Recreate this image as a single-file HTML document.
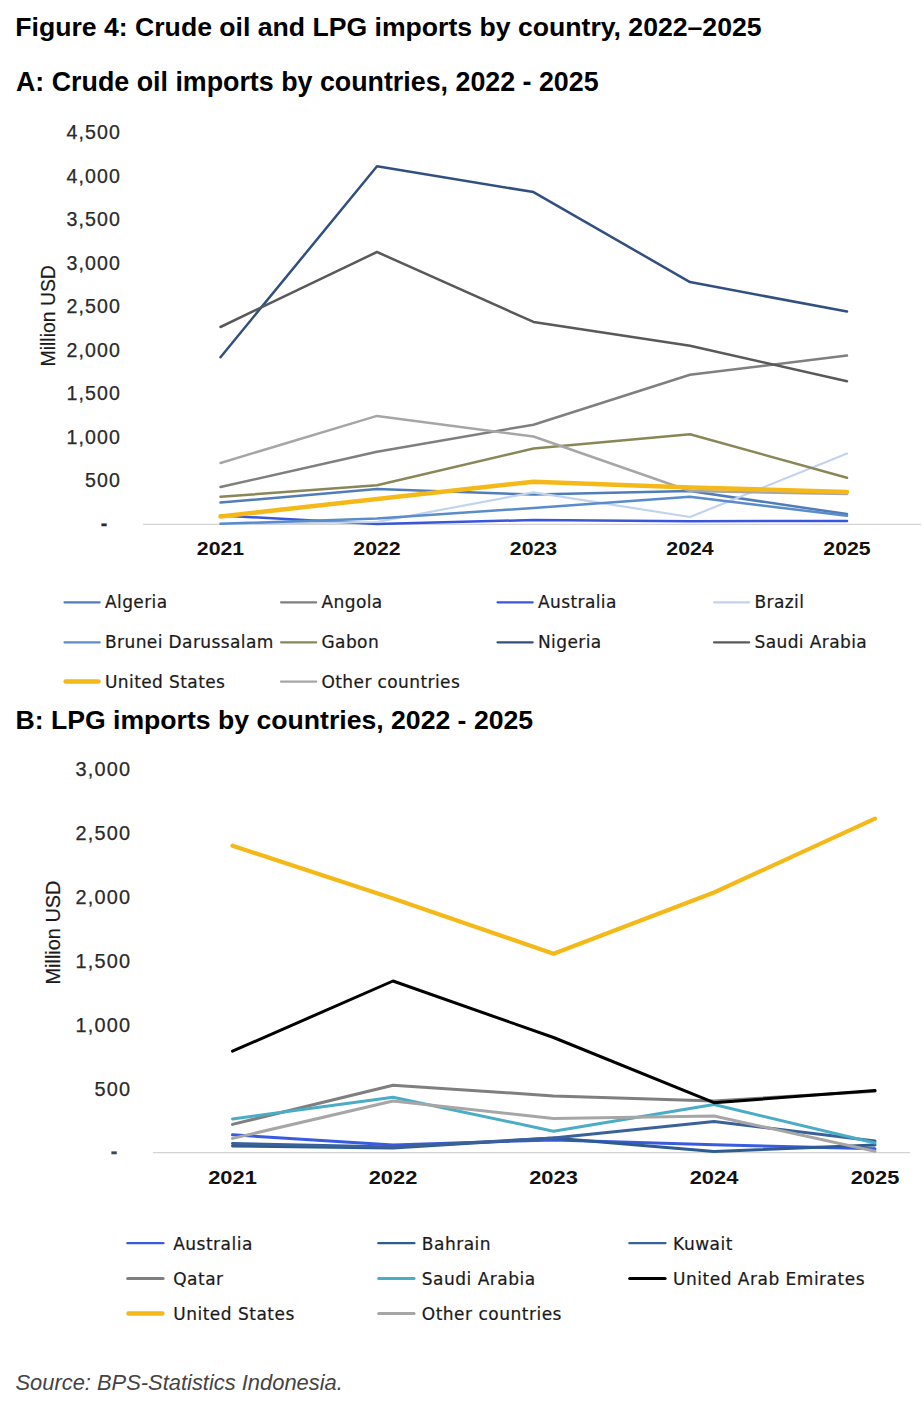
<!DOCTYPE html><html><head><meta charset="utf-8"><title>Figure 4: Crude oil and LPG imports by country</title>
<style>html,body{margin:0;padding:0;background:#fff;}svg{display:block;}.h{font-family:"Liberation Sans",Arial,sans-serif;font-weight:bold;font-size:26.62px;fill:#000;}.tk{font-family:"Liberation Sans",Arial,sans-serif;font-size:19.6px;letter-spacing:1.1px;fill:#2a2a2a;stroke:#2a2a2a;stroke-width:0.25px;}.tkb{font-size:19.9px;letter-spacing:1.2px;}.yr{font-family:"Liberation Sans",Arial,sans-serif;font-weight:bold;font-size:19px;fill:#111;}.lg{font-family:"DejaVu Sans","Liberation Sans",sans-serif;font-size:17px;letter-spacing:0.4px;fill:#1a1a1a;stroke:#1a1a1a;stroke-width:0.2px;}.lgb{letter-spacing:0.5px;}.yt{font-family:"Liberation Sans",Arial,sans-serif;font-size:19px;fill:#1a1a1a;stroke:#1a1a1a;stroke-width:0.2px;}.src{font-family:"Liberation Sans",Arial,sans-serif;font-style:italic;font-size:21.9px;fill:#444;}</style></head><body>
<svg width="924" height="1408" viewBox="0 0 924 1408">
<rect width="924" height="1408" fill="#fff"/>
<text class="h" x="15.3" y="35.7">Figure 4: Crude oil and LPG imports by country, 2022–2025</text>
<text class="h" x="16" y="90.8" style="font-size:26.82px">A: Crude oil imports by countries, 2022 - 2025</text>
<text class="h" x="15.5" y="729.2">B: LPG imports by countries, 2022 - 2025</text>
<text class="tk" x="108.4" y="529.5" text-anchor="end" style="font-weight:bold">-</text>
<text class="tk" x="121" y="487.3" text-anchor="end">500</text>
<text class="tk" x="121" y="443.7" text-anchor="end">1,000</text>
<text class="tk" x="121" y="400.2" text-anchor="end">1,500</text>
<text class="tk" x="121" y="356.7" text-anchor="end">2,000</text>
<text class="tk" x="121" y="313.1" text-anchor="end">2,500</text>
<text class="tk" x="121" y="269.6" text-anchor="end">3,000</text>
<text class="tk" x="121" y="226.1" text-anchor="end">3,500</text>
<text class="tk" x="121" y="182.5" text-anchor="end">4,000</text>
<text class="tk" x="121" y="139.0" text-anchor="end">4,500</text>
<line x1="143" y1="524.4" x2="921" y2="524.4" stroke="#D4D4D4" stroke-width="1.2"/>
<text class="yt" transform="translate(54.6,315.8) rotate(-90)" text-anchor="middle" style="font-size:19.4px">Million USD</text>
<text class="yr" transform="translate(220.5,555) scale(1.12,1)" text-anchor="middle">2021</text>
<text class="yr" transform="translate(377,555) scale(1.12,1)" text-anchor="middle">2022</text>
<text class="yr" transform="translate(533.5,555) scale(1.12,1)" text-anchor="middle">2023</text>
<text class="yr" transform="translate(690,555) scale(1.12,1)" text-anchor="middle">2024</text>
<text class="yr" transform="translate(847,555) scale(1.12,1)" text-anchor="middle">2025</text>
<polyline points="220.5,502.6 377,488.9 533.5,494.6 690,491 847,514.1" fill="none" stroke="#4F7DB8" stroke-width="2.5" stroke-linejoin="round" stroke-linecap="round"/>
<polyline points="220.5,487 377,451.7 533.5,424.7 690,374.7 847,355.6" fill="none" stroke="#7F7F7F" stroke-width="2.5" stroke-linejoin="round" stroke-linecap="round"/>
<polyline points="220.5,515.5 377,524 533.5,520 690,521.2 847,521" fill="none" stroke="#3A56DC" stroke-width="2.5" stroke-linejoin="round" stroke-linecap="round"/>
<polyline points="220.5,524 377,522 533.5,492.3 690,517 847,453.6" fill="none" stroke="#C2D3EE" stroke-width="2.2" stroke-linejoin="round" stroke-linecap="round"/>
<polyline points="220.5,523.8 377,518.4 533.5,508 690,496.8 847,515.8" fill="none" stroke="#5A8BCB" stroke-width="2.5" stroke-linejoin="round" stroke-linecap="round"/>
<polyline points="220.5,496.8 377,485.2 533.5,448.5 690,434.3 847,477.8" fill="none" stroke="#8A8658" stroke-width="2.5" stroke-linejoin="round" stroke-linecap="round"/>
<polyline points="220.5,357.2 377,166.2 533.5,192.1 690,282.1 847,311.6" fill="none" stroke="#31507F" stroke-width="2.5" stroke-linejoin="round" stroke-linecap="round"/>
<polyline points="220.5,327 377,252 533.5,321.9 690,345.7 847,381.2" fill="none" stroke="#595959" stroke-width="2.5" stroke-linejoin="round" stroke-linecap="round"/>
<polyline points="220.5,463 377,415.9 533.5,436.5 690,491 847,494" fill="none" stroke="#A6A6A6" stroke-width="2.5" stroke-linejoin="round" stroke-linecap="round"/>
<polyline points="220.5,516.4 377,499 533.5,481.7 690,487.4 847,492" fill="none" stroke="#F4B919" stroke-width="4.5" stroke-linejoin="round" stroke-linecap="round"/>
<line x1="64.50" y1="602.3" x2="99.70" y2="602.3" stroke="#4F7DB8" stroke-width="2.2" stroke-linecap="round"/>
<text class="lg" x="105" y="608.3">Algeria</text>
<line x1="281.00" y1="602.3" x2="316.20" y2="602.3" stroke="#7F7F7F" stroke-width="2.2" stroke-linecap="round"/>
<text class="lg" x="321.5" y="608.3">Angola</text>
<line x1="497.50" y1="602.3" x2="532.70" y2="602.3" stroke="#3A56DC" stroke-width="2.2" stroke-linecap="round"/>
<text class="lg" x="538" y="608.3">Australia</text>
<line x1="714.00" y1="602.3" x2="749.20" y2="602.3" stroke="#C2D3EE" stroke-width="2.2" stroke-linecap="round"/>
<text class="lg" x="754.5" y="608.3">Brazil</text>
<line x1="64.50" y1="642.3" x2="99.70" y2="642.3" stroke="#5A8BCB" stroke-width="2.2" stroke-linecap="round"/>
<text class="lg" x="105" y="648.3">Brunei Darussalam</text>
<line x1="281.00" y1="642.3" x2="316.20" y2="642.3" stroke="#8A8658" stroke-width="2.2" stroke-linecap="round"/>
<text class="lg" x="321.5" y="648.3">Gabon</text>
<line x1="497.50" y1="642.3" x2="532.70" y2="642.3" stroke="#31507F" stroke-width="2.2" stroke-linecap="round"/>
<text class="lg" x="538" y="648.3">Nigeria</text>
<line x1="714.00" y1="642.3" x2="749.20" y2="642.3" stroke="#595959" stroke-width="2.2" stroke-linecap="round"/>
<text class="lg" x="754.5" y="648.3">Saudi Arabia</text>
<line x1="65.65" y1="681.6" x2="98.55" y2="681.6" stroke="#F4B919" stroke-width="4.5" stroke-linecap="round"/>
<text class="lg" x="105" y="687.6">United States</text>
<line x1="281.00" y1="681.6" x2="316.20" y2="681.6" stroke="#A6A6A6" stroke-width="2.2" stroke-linecap="round"/>
<text class="lg" x="321.5" y="687.6">Other countries</text>
<text class="tk tkb" x="118.5" y="1157.5" text-anchor="end" style="font-weight:bold;fill:#444">-</text>
<text class="tk tkb" x="131.2" y="1095.5" text-anchor="end">500</text>
<text class="tk tkb" x="131.2" y="1031.6" text-anchor="end">1,000</text>
<text class="tk tkb" x="131.2" y="967.6" text-anchor="end">1,500</text>
<text class="tk tkb" x="131.2" y="903.7" text-anchor="end">2,000</text>
<text class="tk tkb" x="131.2" y="839.8" text-anchor="end">2,500</text>
<text class="tk tkb" x="131.2" y="775.9" text-anchor="end">3,000</text>
<line x1="153" y1="1152.6" x2="910" y2="1152.6" stroke="#D4D4D4" stroke-width="1.2"/>
<text class="yt" transform="translate(60.4,932.5) rotate(-90)" text-anchor="middle" style="font-size:19.9px">Million USD</text>
<text class="yr" transform="translate(232.5,1183.8) scale(1.15,1)" text-anchor="middle">2021</text>
<text class="yr" transform="translate(393,1183.8) scale(1.15,1)" text-anchor="middle">2022</text>
<text class="yr" transform="translate(553.5,1183.8) scale(1.15,1)" text-anchor="middle">2023</text>
<text class="yr" transform="translate(714,1183.8) scale(1.15,1)" text-anchor="middle">2024</text>
<text class="yr" transform="translate(875,1183.8) scale(1.15,1)" text-anchor="middle">2025</text>
<polyline points="232.5,1134.8 393,1145 553.5,1139.9 714,1144.7 875,1148.8" fill="none" stroke="#3A5BE0" stroke-width="3" stroke-linejoin="round" stroke-linecap="round"/>
<polyline points="232.5,1146 393,1148 553.5,1138 714,1151.4 875,1145" fill="none" stroke="#2F5C90" stroke-width="3" stroke-linejoin="round" stroke-linecap="round"/>
<polyline points="232.5,1143.5 393,1147 553.5,1138 714,1121.4 875,1141" fill="none" stroke="#3A6299" stroke-width="3" stroke-linejoin="round" stroke-linecap="round"/>
<polyline points="232.5,1124.4 393,1085.2 553.5,1095.9 714,1101 875,1091.2" fill="none" stroke="#7F7F7F" stroke-width="3" stroke-linejoin="round" stroke-linecap="round"/>
<polyline points="232.5,1118.9 393,1097.3 553.5,1131.2 714,1104.5 875,1143" fill="none" stroke="#4BACC6" stroke-width="3" stroke-linejoin="round" stroke-linecap="round"/>
<polyline points="232.5,1051.2 393,981 553.5,1037.5 714,1102.7 875,1090.6" fill="none" stroke="#000000" stroke-width="3" stroke-linejoin="round" stroke-linecap="round"/>
<polyline points="232.5,845.7 393,898.5 553.5,953.7 714,892.5 875,818.6" fill="none" stroke="#F4B919" stroke-width="4.2" stroke-linejoin="round" stroke-linecap="round"/>
<polyline points="232.5,1138.4 393,1101 553.5,1118.6 714,1116 875,1151.2" fill="none" stroke="#A6A6A6" stroke-width="3" stroke-linejoin="round" stroke-linecap="round"/>
<line x1="127.30" y1="1243.2" x2="163.50" y2="1243.2" stroke="#3A5BE0" stroke-width="2.2" stroke-linecap="round"/>
<text class="lg lgb" x="173.2" y="1249.6000000000001">Australia</text>
<line x1="378.30" y1="1243.2" x2="414.50" y2="1243.2" stroke="#2F5C90" stroke-width="2.2" stroke-linecap="round"/>
<text class="lg lgb" x="421.8" y="1249.6000000000001">Bahrain</text>
<line x1="629.30" y1="1243.2" x2="665.50" y2="1243.2" stroke="#3A6299" stroke-width="2.2" stroke-linecap="round"/>
<text class="lg lgb" x="673.1" y="1249.6000000000001">Kuwait</text>
<line x1="127.70" y1="1278.6" x2="163.10" y2="1278.6" stroke="#7F7F7F" stroke-width="3" stroke-linecap="round"/>
<text class="lg lgb" x="173.2" y="1285.0">Qatar</text>
<line x1="378.70" y1="1278.6" x2="414.10" y2="1278.6" stroke="#4BACC6" stroke-width="3" stroke-linecap="round"/>
<text class="lg lgb" x="421.8" y="1285.0">Saudi Arabia</text>
<line x1="629.70" y1="1278.6" x2="665.10" y2="1278.6" stroke="#000000" stroke-width="3" stroke-linecap="round"/>
<text class="lg lgb" x="673.1" y="1285.0">United Arab Emirates</text>
<line x1="128.45" y1="1313.4" x2="162.35" y2="1313.4" stroke="#F4B919" stroke-width="4.5" stroke-linecap="round"/>
<text class="lg lgb" x="173.2" y="1319.8000000000002">United States</text>
<line x1="378.70" y1="1313.4" x2="414.10" y2="1313.4" stroke="#A6A6A6" stroke-width="3" stroke-linecap="round"/>
<text class="lg lgb" x="421.8" y="1319.8000000000002">Other countries</text>
<text class="src" x="15.5" y="1390.3">Source: BPS-Statistics Indonesia.</text>
</svg></body></html>
